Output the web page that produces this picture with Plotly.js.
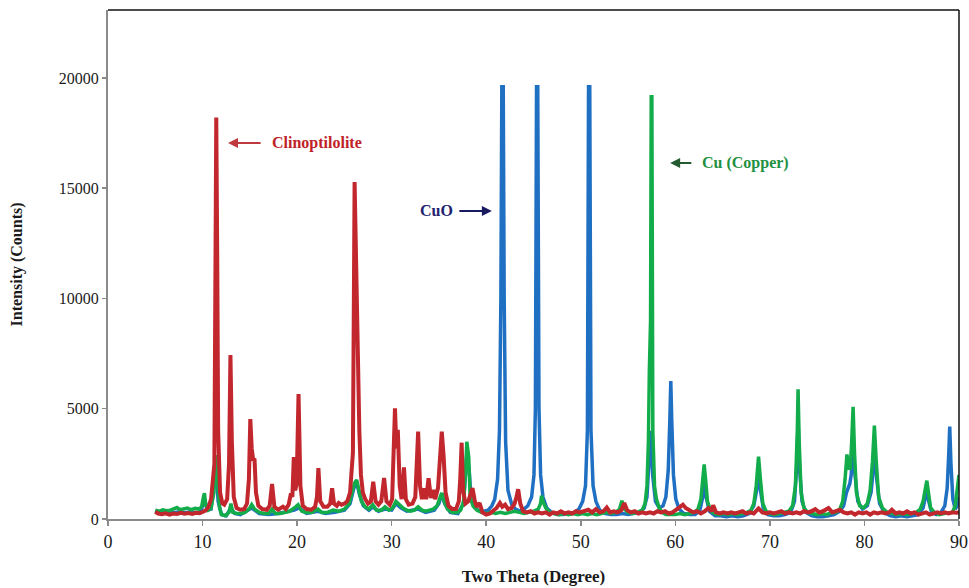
<!DOCTYPE html>
<html>
<head>
<meta charset="utf-8">
<script src="https://cdn.plot.ly/plotly-3.0.1.min.js"></script>
<style>
  html, body { margin: 0; padding: 0; background: #ffffff; }
  #chart { width: 969px; height: 588px; }
</style>
</head>
<body>
<div id="chart"></div>
<script>
// XRD patterns: two theta (degree) vs intensity (counts)

// Clinoptilolite (red)
const clinoX = [5.0,5.3,5.7,6.1,6.5,6.9,7.3,7.7,8.1,8.5,8.9,9.3,9.7,10.0,10.3,10.6,10.9,11.25,11.35,11.45,11.55,11.65,11.85,12.1,12.3,12.6,12.8,12.95,13.1,13.3,13.6,14.0,14.4,14.7,14.9,15.05,15.2,15.35,15.5,15.65,15.9,16.3,16.8,17.1,17.35,17.6,18.0,18.3,18.5,18.8,19.1,19.35,19.5,19.65,19.8,19.95,20.15,20.35,20.6,21.0,21.5,21.9,22.1,22.25,22.45,22.8,23.2,23.5,23.7,23.9,24.2,24.4,24.7,25.0,25.3,25.6,25.9,26.08,26.22,26.35,26.45,26.58,26.75,26.95,27.2,27.5,27.8,28.05,28.3,28.6,28.9,29.2,29.45,29.8,30.05,30.25,30.35,30.5,30.65,30.85,31.05,31.3,31.5,31.8,32.2,32.5,32.7,32.8,33.0,33.2,33.45,33.65,33.9,34.15,34.4,34.6,34.9,35.1,35.3,35.5,35.7,36.0,36.4,36.8,37.1,37.25,37.4,37.55,37.8,38.1,38.55,38.8,39.0,39.3,39.6,40.0,40.4,40.8,41.1,41.45,41.7,42.0,42.3,42.7,43.0,43.2,43.38,43.6,43.9,44.3,44.7,45.1,45.5,45.9,46.3,46.7,47.1,47.5,47.9,48.3,48.7,49.1,49.5,49.9,50.3,50.8,51.2,51.6,52.0,52.4,52.75,53.1,53.5,53.9,54.3,54.6,54.9,55.3,55.7,56.1,56.5,56.9,57.3,57.7,58.1,58.5,58.9,59.3,59.7,60.1,60.5,60.8,61.1,61.5,61.9,62.3,62.7,63.1,63.5,63.8,64.0,64.3,64.7,65.1,65.5,65.9,66.3,66.7,67.1,67.5,67.9,68.3,68.8,69.2,69.6,70.0,70.4,70.8,71.2,71.6,72.0,72.4,72.8,73.2,73.6,74.0,74.4,74.8,75.2,75.6,76.2,76.6,77.0,77.4,77.8,78.2,78.6,79.0,79.4,79.8,80.2,80.6,81.0,81.4,81.8,82.2,82.6,82.9,83.3,83.7,84.1,84.5,84.9,85.3,85.7,86.1,86.5,86.9,87.3,87.7,88.1,88.5,88.9,89.3,89.7,90.0];
const clinoY = [330,250,220,260,200,250,230,280,240,270,230,280,260,300,380,520,900,2500,9000,18200,12000,4000,1200,700,650,900,2500,7440,3500,1000,500,420,450,700,1800,4535,3200,2700,2680,1200,600,450,420,600,1590,550,420,500,560,450,650,1165,1000,2810,1300,1600,5670,1500,600,450,420,550,1000,2310,800,550,550,700,1400,700,600,725,650,700,800,1200,3000,15280,12000,8800,8250,4000,2000,1200,900,700,800,1690,800,650,800,1860,800,650,900,3000,5020,3200,4040,1500,900,2340,900,650,700,1000,2500,3960,1500,900,1390,900,1845,950,1315,900,1400,2600,3960,2800,1200,600,450,450,800,1800,3460,1300,700,800,1400,800,550,725,300,200,250,400,500,725,550,650,450,500,700,1000,1350,700,350,300,350,250,300,250,300,200,300,250,350,250,300,250,350,300,350,420,300,450,300,350,520,300,350,300,400,730,400,300,350,250,300,250,300,250,350,300,350,250,300,400,550,650,500,400,300,350,250,350,500,350,620,300,250,300,250,300,250,300,350,250,300,250,480,300,250,300,250,300,350,250,300,250,300,250,350,300,350,450,300,350,500,300,350,420,300,250,300,200,300,250,300,200,300,250,300,250,300,420,250,300,250,350,250,300,200,250,300,200,250,300,250,300,250,300,280,300];

// Cu (Copper) (green)
const copperX = [5.0,5.4,5.8,6.2,6.6,7.0,7.3,7.6,8.0,8.4,8.8,9.2,9.6,9.9,10.1,10.2,10.35,10.6,10.9,11.2,11.42,11.6,11.8,12.0,12.4,12.8,13.0,13.2,13.6,14.0,14.5,15.0,15.2,15.5,16.0,16.5,17.0,17.35,17.7,18.2,18.7,19.2,19.7,20.1,20.5,21.0,21.5,22.2,22.6,23.2,23.8,24.4,25.0,25.5,25.8,26.1,26.3,26.55,26.8,27.2,27.6,28.0,28.4,28.9,29.3,29.7,30.1,30.45,30.8,31.2,31.6,32.0,32.4,32.8,33.2,33.6,34.0,34.4,34.8,35.1,35.3,35.55,35.9,36.4,36.9,37.3,37.6,37.8,37.95,38.15,38.3,38.6,39.0,39.5,40.0,40.5,41.0,41.5,42.0,42.5,43.0,43.5,44.0,44.5,45.0,45.5,45.75,45.85,46.0,46.3,46.7,47.2,47.7,48.2,48.7,49.2,49.7,50.2,50.7,51.2,51.7,52.2,52.7,53.2,53.7,54.1,54.35,54.6,55.0,55.5,56.0,56.5,56.8,57.0,57.15,57.25,57.38,57.45,57.52,57.62,57.8,58.0,58.3,58.6,59.0,59.5,60.0,60.5,61.0,61.5,62.0,62.4,62.7,62.9,63.05,63.2,63.4,63.7,64.1,64.6,65.1,65.6,66.1,66.6,67.1,67.6,68.0,68.3,68.55,68.8,69.0,69.25,69.6,70.0,70.5,71.0,71.5,72.0,72.4,72.7,72.9,72.98,73.1,73.3,73.6,74.0,74.5,75.0,75.5,76.0,76.5,77.0,77.4,77.7,77.95,78.15,78.35,78.5,78.65,78.8,78.95,79.15,79.5,79.9,80.3,80.6,80.85,81.05,81.25,81.5,81.9,82.4,83.0,83.5,84.0,84.5,85.0,85.5,85.9,86.2,86.45,86.6,86.8,87.0,87.4,87.9,88.4,88.9,89.3,89.6,89.85,90.0];
const copperY = [400,350,420,380,400,450,520,420,450,500,420,480,450,550,1000,1165,600,400,500,1200,2900,1500,500,200,150,300,700,300,250,250,300,500,650,450,300,250,250,450,250,250,300,350,500,650,350,300,300,450,300,300,400,350,450,700,1200,1650,1770,1300,800,550,450,650,400,400,550,400,500,800,650,500,400,350,400,550,400,350,400,450,600,900,1180,800,450,300,300,400,800,2000,3500,2800,1000,600,400,300,250,300,250,300,250,300,350,300,250,300,350,450,700,1060,800,500,300,250,200,250,200,250,200,250,200,250,200,250,300,250,300,450,830,450,300,250,300,400,700,1500,3500,6700,9000,19150,19150,4000,1500,900,500,300,200,200,200,250,200,250,300,450,900,1800,2480,1800,800,400,250,200,250,200,250,200,250,300,400,700,1500,2830,1800,700,350,250,200,250,300,350,600,1500,4000,5880,3500,1200,500,300,250,200,250,200,300,300,450,800,1800,2930,2300,2300,3500,5090,3000,1200,600,500,700,1300,2600,4230,2600,1000,500,300,250,200,250,200,250,300,450,800,1400,1740,1100,500,300,200,250,300,300,600,1400,2000];

// CuO (blue)
const cuoX = [5.0,5.4,5.8,6.2,6.6,7.0,7.4,7.8,8.2,8.6,9.0,9.4,9.8,10.2,10.5,10.9,11.4,11.65,12.0,12.5,13.0,13.4,14.0,15.2,16.0,17.0,18.0,19.7,20.2,21.0,22.2,23.0,24.0,25.0,25.6,26.0,26.3,26.6,27.0,27.6,28.0,28.6,29.3,30.0,30.45,31.0,31.6,32.8,33.6,34.5,35.0,35.3,35.6,36.2,37.0,37.6,37.95,38.2,38.4,38.8,39.3,39.8,40.2,40.6,40.9,41.2,41.4,41.55,41.65,41.8,41.9,42.05,42.3,42.7,43.1,43.6,44.0,44.4,44.8,45.05,45.2,45.32,45.45,45.58,45.75,46.0,46.4,46.9,47.5,48.1,48.7,49.3,49.8,50.2,50.5,50.7,50.82,50.95,51.08,51.3,51.6,52.0,52.6,53.2,53.8,54.4,55.0,55.6,56.2,56.7,57.0,57.2,57.4,57.6,57.9,58.3,58.7,59.0,59.25,59.42,59.52,59.62,59.8,60.05,60.4,60.9,61.5,62.1,62.6,62.9,63.05,63.25,63.6,64.2,64.8,65.4,66.0,66.6,67.2,67.8,68.3,68.6,68.8,69.0,69.3,69.8,70.4,71.0,71.6,72.2,72.6,72.85,72.98,73.15,73.4,73.8,74.4,75.0,75.6,76.2,76.8,77.4,77.8,78.1,78.3,78.45,78.6,78.8,79.0,79.3,79.8,80.3,80.7,80.95,81.1,81.3,81.6,82.1,82.7,83.3,83.9,84.5,85.1,85.7,86.2,86.45,86.6,86.8,87.1,87.6,88.1,88.5,88.75,88.92,89.02,89.15,89.35,89.6,89.8,90.0];
const cuoY = [380,280,300,260,300,280,320,300,280,320,300,280,320,900,400,450,2400,800,200,150,500,250,200,500,250,200,250,400,500,250,350,250,300,400,700,1400,1650,1100,600,400,550,350,450,400,700,500,350,450,300,400,700,1150,700,300,250,700,3000,2200,900,500,350,350,400,600,900,1800,4000,10000,19600,19600,10000,3500,1300,650,450,350,450,600,1000,2000,5000,19600,19600,5000,2000,1000,500,300,200,200,250,300,450,800,1500,4000,19600,19600,4000,1500,800,400,250,200,200,250,200,250,300,500,1000,2500,4000,2000,800,500,600,1000,2200,4500,6260,4500,2000,900,450,250,200,200,400,1000,1700,1000,350,150,150,100,150,100,150,250,600,1300,2300,1300,500,200,150,150,200,300,800,2500,4500,2200,800,300,150,100,100,150,200,350,600,1200,1500,1600,2000,3500,2000,800,450,600,1200,2200,3000,1800,700,300,150,100,150,100,150,200,500,1000,1300,800,300,200,300,600,1400,3000,4190,2500,900,450,600,1000];

// Axis ticks
const xTicks = [0, 10, 20, 30, 40, 50, 60, 70, 80, 90];
const yTicks = [0, 5000, 10000, 15000, 20000];

const serif = 'Liberation Serif, Times New Roman, serif';

const traces = [
  { x: cuoX, y: cuoY, name: 'CuO', type: 'scatter', mode: 'lines',
    line: { color: '#1f6fc2', width: 3.5 }, hoverinfo: 'skip' },
  { x: copperX, y: copperY, name: 'Cu (Copper)', type: 'scatter', mode: 'lines',
    line: { color: '#12ad4a', width: 3.5 }, hoverinfo: 'skip' },
  { x: clinoX, y: clinoY, name: 'Clinoptilolite', type: 'scatter', mode: 'lines',
    line: { color: '#c1272d', width: 4 }, hoverinfo: 'skip' }
];

const layout = {
  width: 969,
  height: 588,
  margin: { l: 108, r: 10, t: 10, b: 69 },
  paper_bgcolor: '#ffffff',
  plot_bgcolor: '#ffffff',
  showlegend: false,
  font: { family: serif, color: '#1a1a1a' },
  xaxis: {
    range: [0, 90],
    tickvals: xTicks,
    ticktext: xTicks.map(String),
    ticks: 'outside', ticklen: 5, tickwidth: 1.5, tickcolor: '#8a8a8a',
    showline: true, linecolor: '#8a8a8a', linewidth: 2,
    showgrid: false, zeroline: false,
    tickfont: { family: serif, size: 18, color: '#1a1a1a' },
    title: { text: '<b>Two Theta (Degree)</b>', font: { family: serif, size: 17, color: '#1a1a1a' }, standoff: 20 }
  },
  yaxis: {
    range: [0, 23080],
    tickvals: yTicks,
    ticktext: yTicks.map(String),
    ticks: 'outside', ticklen: 4, tickwidth: 1.5, tickcolor: '#8a8a8a',
    showline: true, linecolor: '#8a8a8a', linewidth: 2,
    showgrid: false, zeroline: false,
    tickfont: { family: serif, size: 16, color: '#1a1a1a' },
    title: { text: '<b>Intensity (Counts)</b>', font: { family: serif, size: 16, color: '#1a1a1a' }, standoff: 32 }
  },
  shapes: [
    { type: 'line', xref: 'paper', yref: 'paper', x0: 0, x1: 1, y0: 1, y1: 1,
      line: { color: '#111111', width: 1.5 } },
    { type: 'line', xref: 'paper', yref: 'paper', x0: 1, x1: 1, y0: 0, y1: 1,
      line: { color: '#111111', width: 1.5 } }
  ],
  annotations: [
    // Clinoptilolite label and arrow
    { x: 12.69, y: 17052, ax: 16.3, ay: 17052, axref: 'x', ayref: 'y', xref: 'x', yref: 'y',
      text: '', showarrow: true, arrowhead: 2, arrowsize: 1, arrowwidth: 2, arrowcolor: '#c0393e', standoff: 0 },
    { x: 17.1, y: 17052, xref: 'x', yref: 'y', xanchor: 'left', yanchor: 'middle', showarrow: false,
      text: '<b>Clinoptilolite</b>', font: { family: serif, size: 16, color: '#bf2228' } },
    // CuO label and arrow
    { x: 40.6, y: 13968, ax: 37.0, ay: 13968, axref: 'x', ayref: 'y', xref: 'x', yref: 'y',
      text: '', showarrow: true, arrowhead: 2, arrowsize: 1, arrowwidth: 2, arrowcolor: '#1a1a5e', standoff: 0 },
    { x: 36.75, y: 13968, xref: 'x', yref: 'y', xanchor: 'right', yanchor: 'middle', showarrow: false,
      text: '<b>CuO</b>', font: { family: serif, size: 16, color: '#22226e' } },
    // Cu (Copper) label and arrow
    { x: 59.45, y: 16145, ax: 61.85, ay: 16145, axref: 'x', ayref: 'y', xref: 'x', yref: 'y',
      text: '', showarrow: true, arrowhead: 2, arrowsize: 1, arrowwidth: 2, arrowcolor: '#245a30', standoff: 0 },
    { x: 62.6, y: 16145, xref: 'x', yref: 'y', xanchor: 'left', yanchor: 'middle', showarrow: false,
      text: '<b>Cu (Copper)</b>', font: { family: serif, size: 16, color: '#23903f' } }
  ]
};

Plotly.newPlot('chart', traces, layout, { staticPlot: true, displayModeBar: false });
</script>
</body>
</html>
